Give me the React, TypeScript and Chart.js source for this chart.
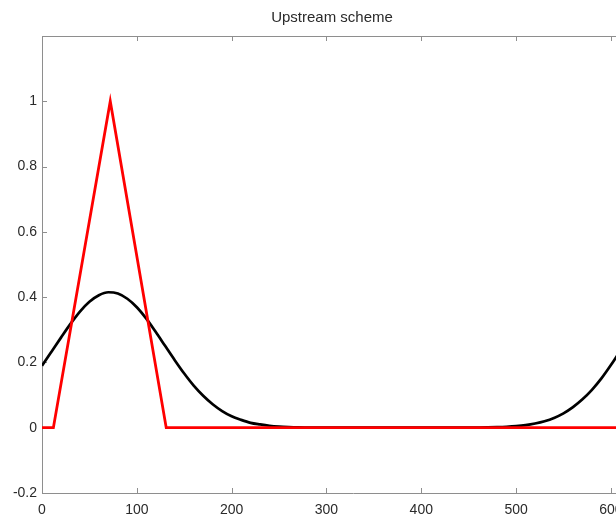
import React, { useEffect, useRef } from "react";
import { Chart, registerables } from "chart.js";

Chart.register(...registerables);

const TITLE = "Upstream scheme";
const X_TICKS = [0, 100, 200, 300, 400, 500, 600];
const Y_TICKS = [-0.2, 0, 0.2, 0.4, 0.6, 0.8, 1];
const X_MIN = 0;
const X_MAX = 656;
const Y_MIN = -0.2;
const Y_MAX = 1.2;

// Exact (initial) hat profile, red
const hatX = [0, 12, 72, 131, 660];
const hatY = [0, 0, 1, 0, 0];

// Upstream-scheme solution, black
const solX = [
  0, 10, 20, 30, 40, 50, 60, 70, 80, 90, 100, 110, 120, 130, 140, 150, 160,
  170, 180, 190, 200, 210, 220, 230, 240, 250, 260, 270, 280, 290, 300, 310,
  320, 330, 340, 350, 360, 370, 380, 390, 400, 410, 420, 430, 440, 450, 460,
  470, 480, 490, 500, 510, 520, 530, 540, 550, 560, 570, 580, 590, 600, 610,
  620, 630, 640, 650, 660,
];
const solY = [
  0.19, 0.233, 0.276, 0.318, 0.356, 0.386, 0.406, 0.415, 0.411, 0.395, 0.369,
  0.334, 0.293, 0.25, 0.207, 0.166, 0.129, 0.098, 0.072, 0.051, 0.035, 0.024,
  0.015, 0.01, 0.006, 0.0035, 0.002, 0.001, 0.0006, 0.0003, 0.0001, 0, 0, 0,
  0, 0, 0, 0, 0, 0, 0, 0, 0, 0, 0, 0.0002, 0.0005, 0.0009, 0.0016, 0.0028,
  0.0048, 0.008, 0.013, 0.02, 0.03, 0.044, 0.063, 0.087, 0.116, 0.151, 0.192,
  0.236, 0.278, 0.318, 0.356, 0.386, 0.406,
];

const AXIS_COLOR = "#8e8e8e";
const TEXT_COLOR = "#2a2a2a";
const FONT = "'Liberation Sans', Arial, Helvetica, sans-serif";

const framePlugin = {
  id: "matlabFrame",
  beforeDatasetsDraw(chart: any) {
    const { ctx, chartArea: a, scales } = chart;
    const xs = scales.x;
    const ys = scales.y;
    ctx.save();
    ctx.strokeStyle = AXIS_COLOR;
    ctx.lineWidth = 1;
    ctx.beginPath();
    ctx.moveTo(a.left, Math.round(a.top) + 0.5);
    ctx.lineTo(a.right, Math.round(a.top) + 0.5);
    ctx.moveTo(Math.round(a.right) - 0.5, a.top);
    ctx.lineTo(Math.round(a.right) - 0.5, a.bottom);
    X_TICKS.forEach((v) => {
      const px = Math.round(xs.getPixelForValue(v)) + 0.5;
      ctx.moveTo(px, a.bottom);
      ctx.lineTo(px, a.bottom - 5);
      ctx.moveTo(px, a.top);
      ctx.lineTo(px, a.top + 5);
    });
    Y_TICKS.forEach((v) => {
      const py = Math.round(ys.getPixelForValue(v)) + 0.5;
      ctx.moveTo(a.left, py);
      ctx.lineTo(a.left + 5, py);
      ctx.moveTo(a.right, py);
      ctx.lineTo(a.right - 5, py);
    });
    ctx.stroke();
    ctx.restore();
  },
};

export default function App() {
  const ref = useRef<HTMLCanvasElement | null>(null);

  useEffect(() => {
    if (!ref.current) return;
    const chart = new Chart(ref.current, {
      type: "line",
      data: {
        datasets: [
          {
            label: "exact",
            data: hatX.map((x, i) => ({ x, y: hatY[i] })),
            borderColor: "#ff0000",
            borderWidth: 2.8,
            pointRadius: 0,
            tension: 0,
            fill: false,
          },
          {
            label: "upstream",
            data: solX.map((x, i) => ({ x, y: solY[i] })),
            borderColor: "#000000",
            borderWidth: 2.7,
            pointRadius: 0,
            cubicInterpolationMode: "monotone",
            fill: false,
          },
        ],
      },
      options: {
        animation: false,
        responsive: false,
        devicePixelRatio: 1,
        layout: { padding: 0 },
        plugins: {
          legend: { display: false },
          tooltip: { enabled: false },
          title: {
            display: true,
            text: TITLE,
            color: TEXT_COLOR,
            font: { family: FONT, size: 15, weight: "normal", lineHeight: 1.2 },
            padding: { top: 9, bottom: 9 },
          },
        },
        scales: {
          x: {
            type: "linear",
            min: X_MIN,
            max: X_MAX,
            bounds: "data",
            grid: { display: false, drawTicks: false },
            border: { display: true, color: AXIS_COLOR, width: 1 },
            ticks: {
              color: TEXT_COLOR,
              font: { family: FONT, size: 14 },
              padding: 9,
              maxRotation: 0,
              autoSkip: false,
              callback: (v: any) => String(v),
            },
            afterBuildTicks: (s: any) => {
              s.ticks = X_TICKS.map((value) => ({ value }));
            },
            afterFit: (s: any) => {
              s.height = 24;
            },
          },
          y: {
            type: "linear",
            min: Y_MIN,
            max: Y_MAX,
            bounds: "data",
            grid: { display: false, drawTicks: false },
            border: { display: true, color: AXIS_COLOR, width: 1 },
            ticks: {
              color: TEXT_COLOR,
              font: { family: FONT, size: 14 },
              padding: 5,
              autoSkip: false,
              callback: (v: any) => String(v),
            },
            afterBuildTicks: (s: any) => {
              s.ticks = Y_TICKS.map((value) => ({ value }));
            },
            afterFit: (s: any) => {
              s.width = 42;
            },
          },
        },
      },
      plugins: [framePlugin],
    });
    return () => chart.destroy();
  }, []);

  return (
    <div
      style={{
        position: "fixed",
        left: 0,
        top: 0,
        width: 616,
        height: 517,
        overflow: "hidden",
        background: "#fff",
      }}
    >
      <canvas ref={ref} width={664} height={517} style={{ display: "block" }} />
    </div>
  );
}
